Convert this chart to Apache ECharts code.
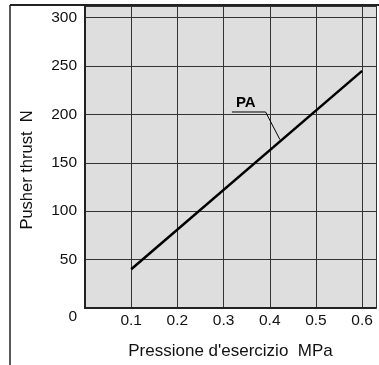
<!DOCTYPE html>
<html>
<head>
<meta charset="utf-8">
<script src="https://cdn.jsdelivr.net/npm/echarts@6/dist/echarts.min.js"></script>
<style>html,body{margin:0;padding:0;background:#fff;}#c{width:379px;height:365px;}</style>
</head>
<body>
<div id="c"></div>
<script>
// Data
const pressure = [0.1, 0.6];          // MPa
const thrustPA = [40, 245];           // N
const leaderX = [0.318, 0.391, 0.422];
const leaderY = [202.5, 202.5, 174];
const seriesLabel = 'PA';
const yTicks = [0, 50, 100, 150, 200, 250, 300];
const xTicks = [0.1, 0.2, 0.3, 0.4, 0.5, 0.6];
const xTitle = "Pressione d'esercizio  MPa";
const yTitle = 'Pusher thrust  N';

const FONT = 'Liberation Sans, Arial, sans-serif';
const chart = echarts.init(document.getElementById('c'), null, {renderer: 'canvas'});

const isTick = (arr, v) => arr.some(t => Math.abs(t - v) < 1e-6);

chart.setOption({
  animation: false,
  backgroundColor: '#fff',
  grid: {left: 85, right: 0, top: 6, bottom: 57, show: true, backgroundColor: '#dedede', borderWidth: 0},
  xAxis: {
    type: 'value', min: 0, max: 0.63, interval: 0.1,
    name: xTitle, nameLocation: 'middle', nameGap: 35,
    nameTextStyle: {fontFamily: FONT, fontSize: 17, color: '#111'},
    axisLine: {show: true, lineStyle: {color: '#222', width: 2}},
    axisTick: {show: false},
    axisLabel: {
      margin: 5, fontFamily: FONT, fontSize: 15.5, color: '#111',
      formatter: v => (v > 0 && isTick(xTicks, v)) ? (Math.round(v * 10) / 10).toFixed(1) : '',
      showMaxLabel: true, showMinLabel: true
    },
    splitLine: {show: true, lineStyle: {color: '#333', width: 1}}
  },
  yAxis: {
    type: 'value', min: 0, max: 312, interval: 50,
    axisLine: {show: true, lineStyle: {color: '#222', width: 2}},
    axisTick: {show: false},
    axisLabel: {
      margin: 8, fontFamily: FONT, fontSize: 15.5, color: '#111',
      formatter: v => isTick(yTicks, v) ? (v === 0 ? '{z|0}' : String(v)) : '',
      rich: {z: {fontFamily: FONT, fontSize: 15.5, color: '#111', padding: [18, 0, 0, 0]}}
    },
    splitLine: {show: true, lineStyle: {color: '#333', width: 1}}
  },
  graphic: [
    {type: 'line', shape: {x1: 10, y1: 5, x2: 379, y2: 5}, style: {stroke: '#222', lineWidth: 2}, z: 100},
    {type: 'line', shape: {x1: 10, y1: 5, x2: 10, y2: 365}, style: {stroke: '#222', lineWidth: 1.5}, z: 100},
    {type: 'text', x: 27, y: 170, rotation: Math.PI / 2,
     style: {text: yTitle, font: '16.5px ' + FONT, fill: '#111', textAlign: 'center', textVerticalAlign: 'middle'}}
  ],
  series: [
    {
      type: 'line', data: pressure.map((p, i) => [p, thrustPA[i]]),
      symbol: 'none', lineStyle: {color: '#000', width: 2.5}, z: 5
    },
    {
      type: 'line', data: leaderX.map((p, i) => [p, leaderY[i]]),
      symbol: 'none', lineStyle: {color: '#000', width: 1}, z: 4,
      label: {show: false},
      markPoint: {
        symbol: 'circle', symbolSize: 0,
        data: [{coord: [leaderX[0] + 0.03, leaderY[0]], value: seriesLabel}],
        label: {show: true, formatter: seriesLabel, position: 'top', distance: 2,
                fontFamily: FONT, fontWeight: 'bold', fontSize: 15, color: '#000'}
      }
    }
  ]
});
</script>
</body>
</html>
